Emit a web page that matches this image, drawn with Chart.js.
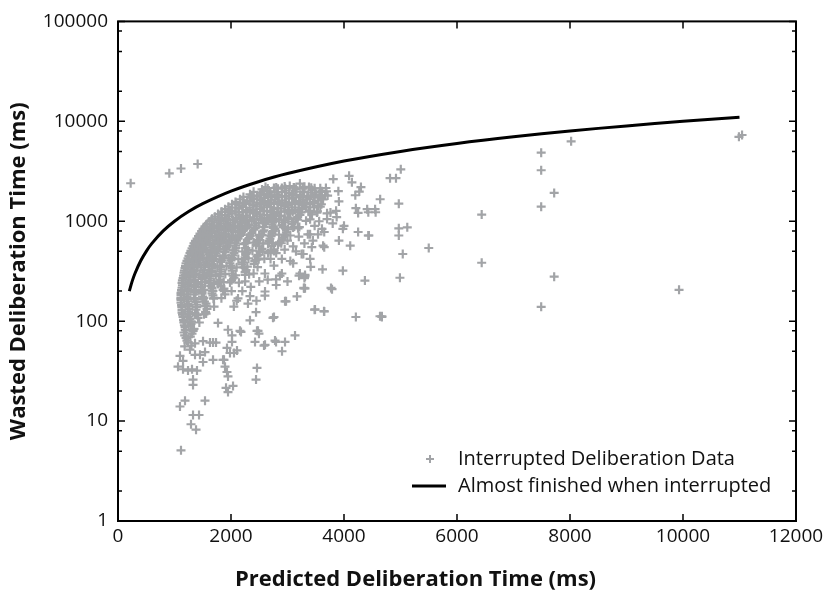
<!DOCTYPE html>
<html>
<head>
<meta charset="utf-8">
<script src="https://cdn.jsdelivr.net/npm/chart.js@4.4.1/dist/chart.umd.min.js"></script>
<style>
  html, body { margin: 0; padding: 0; background: #fff; }
  #wrap { width: 831px; height: 593px; }
</style>
</head>
<body>
<div id="wrap"><canvas id="chart" width="831" height="593"></canvas></div>
<script>
// Axis ticks
const xTicks = [0, 2000, 4000, 6000, 8000, 10000, 12000];
const yTicks = [1, 10, 100, 1000, 10000, 100000];
const yMinorTicks = [2, 5, 8, 20, 50, 80, 200, 500, 800, 2000, 5000, 8000, 20000, 50000, 80000];

// "Almost finished when interrupted" reference line (wasted = predicted)
const finishedX = [200, 250, 300, 400, 500, 600, 800, 1000, 1250, 1500, 2000, 2500, 3000, 4000, 5000, 6000, 7000, 8000, 9000, 10000, 11000];
const finishedY = [200, 250, 300, 400, 500, 600, 800, 1000, 1250, 1500, 2000, 2500, 3000, 4000, 5000, 6000, 7000, 8000, 9000, 10000, 11000];

// Interrupted deliberation data, [predicted ms, wasted ms]
const interruptedPoints = [
  // outliers top left
  [224, 2400], [908, 3020], [1115, 3370], [1410, 3740],
  // dense cloud
  [2900, 2150], [3040, 2250], [3220, 2380], [3380, 2200],
  [2610, 2200], [2760, 2150], [2950, 2230], [3120, 2170], [3300, 2210], [3480, 2140],
  [2549, 2080], [2690, 1990], [2832, 2120], [2974, 2030], [3151, 2100], [3293, 1980], [3434, 2060], [3611, 2000],
  [2400, 1970], [2520, 1930], [2640, 1990], [2770, 1940], [2900, 1960], [3030, 1920], [3160, 1980], [3290, 1950], [3430, 1930], [3570, 1970],
  [2336, 1860], [2460, 1800], [2584, 1880], [2708, 1820], [2832, 1850], [2956, 1790], [3080, 1870], [3221, 1830], [3363, 1800], [3505, 1860], [3664, 1820],
  [2220, 1750], [2345, 1720], [2470, 1760], [2595, 1710], [2720, 1740], [2845, 1730], [2970, 1765], [3095, 1715], [3220, 1745], [3350, 1725], [3480, 1755], [3600, 1720],
  [2159, 1660], [2283, 1610], [2407, 1670], [2531, 1630], [2655, 1600], [2779, 1650], [2903, 1620], [3027, 1680], [3151, 1600], [3275, 1640], [3398, 1660], [3540, 1610],
  [2080, 1560], [2205, 1530], [2330, 1575], [2455, 1540], [2580, 1555], [2705, 1525], [2830, 1570], [2955, 1545], [3080, 1535], [3205, 1565], [3330, 1530], [3470, 1555],
  [2018, 1480], [2142, 1440], [2266, 1500], [2390, 1450], [2513, 1470], [2637, 1430], [2761, 1490], [2885, 1460], [3009, 1440], [3133, 1480], [3257, 1450], [3398, 1470], [3540, 1430],
  [1955, 1400], [2080, 1370], [2205, 1395], [2330, 1365], [2455, 1410], [2575, 1375], [2700, 1390], [2825, 1360], [2950, 1405], [3075, 1380], [3200, 1370], [3330, 1395], [3470, 1375],
  [1894, 1320], [2018, 1280], [2142, 1340], [2266, 1300], [2390, 1290], [2513, 1330], [2637, 1270], [2761, 1310], [2885, 1340], [3009, 1290], [3133, 1300], [3257, 1320], [3398, 1280],
  [1830, 1245], [1955, 1220], [2080, 1250], [2205, 1225], [2330, 1240], [2455, 1215], [2575, 1255], [2700, 1230], [2825, 1220], [2950, 1250], [3090, 1235], [3240, 1225],
  [1770, 1180], [1894, 1150], [2018, 1190], [2142, 1160], [2266, 1140], [2390, 1200], [2513, 1170], [2637, 1150], [2761, 1180], [2885, 1140], [3044, 1190], [3221, 1160], [3434, 1170],
  [1715, 1110], [1840, 1090], [1965, 1115], [2090, 1085], [2210, 1105], [2335, 1095], [2460, 1120], [2590, 1080], [2720, 1100], [2860, 1115], [3000, 1090], [3180, 1105],
  [1664, 1060], [1788, 1020], [1912, 1050], [2036, 1030], [2159, 1070], [2283, 1010], [2407, 1040], [2531, 1060], [2655, 1020], [2797, 1050], [2956, 1030], [3151, 1060], [3328, 1010],
  [1620, 995], [1745, 975], [1870, 1000], [1990, 970], [2115, 990], [2240, 980], [2365, 1000], [2490, 965], [2620, 985], [2760, 995], [2930, 975], [3100, 990],
  [1575, 940], [1699, 910], [1823, 950], [1947, 920], [2071, 900], [2195, 945], [2319, 925], [2443, 910], [2567, 955], [2726, 930], [2903, 915], [3080, 940],
  [1540, 890], [1660, 870], [1785, 895], [1910, 865], [2035, 885], [2160, 875], [2285, 895], [2425, 860], [2575, 880], [2750, 890], [2950, 870], [3120, 885],
  [1505, 840], [1628, 815], [1752, 850], [1876, 820], [2000, 835], [2124, 805], [2248, 845], [2407, 825], [2584, 810], [2779, 840], [3009, 830], [3186, 850],
  [1480, 795], [1595, 775], [1710, 800], [1830, 770], [1955, 790], [2080, 780], [2210, 800], [2370, 765], [2560, 785], [2750, 795], [2980, 775],
  [1451, 750], [1558, 725], [1664, 760], [1788, 735], [1912, 745], [2036, 720], [2177, 755], [2336, 740], [2549, 730], [2726, 750], [2956, 725],
  [1425, 710], [1530, 690], [1640, 715], [1760, 685], [1885, 705], [2010, 695], [2150, 715], [2320, 680], [2510, 700], [2710, 710], [2930, 690],
  [1398, 670], [1505, 650], [1611, 680], [1735, 655], [1859, 665], [1982, 645], [2124, 675], [2301, 660], [2478, 650], [2690, 670], [2903, 655],
  [1370, 635], [1475, 615], [1585, 640], [1710, 610], [1830, 630], [1955, 620], [2100, 640], [2265, 605], [2460, 625], [2670, 635], [2860, 615],
  [1345, 600], [1451, 580], [1558, 605], [1682, 585], [1805, 595], [1929, 575], [2071, 600], [2230, 590], [2443, 580], [2655, 600], [2832, 585],
  [1330, 565], [1435, 550], [1540, 570], [1665, 545], [1790, 560], [1920, 550], [2080, 570], [2265, 540], [2500, 560], [2720, 565],
  [1310, 535], [1416, 520], [1522, 540], [1646, 515], [1770, 530], [1912, 525], [2089, 540], [2301, 515], [2549, 530], [2761, 520],
  [1290, 505], [1400, 490], [1505, 510], [1630, 485], [1755, 500], [1895, 490], [2070, 510], [2285, 485], [2510, 500], [2700, 505],
  [1274, 480], [1381, 460], [1487, 485], [1611, 465], [1735, 475], [1876, 455], [2053, 480], [2266, 470], [2478, 460], [2655, 480],
  [1255, 450], [1365, 438], [1470, 455], [1595, 435], [1720, 448], [1860, 440], [2035, 455], [2250, 435], [2460, 445],
  [1239, 425], [1345, 410], [1451, 430], [1575, 415], [1699, 420], [1841, 405], [2018, 428], [2230, 415], [2443, 410],
  [1220, 402], [1325, 390], [1435, 405], [1555, 388], [1680, 400], [1820, 392], [2000, 405], [2210, 388], [2420, 398],
  [1204, 380], [1310, 370], [1416, 385], [1540, 365], [1664, 375], [1805, 360], [1982, 380], [2195, 370], [2407, 375],
  [1195, 358], [1300, 348], [1405, 360], [1530, 345], [1665, 355], [1815, 350], [2000, 360], [2230, 346],
  [1186, 340], [1292, 330], [1398, 345], [1522, 325], [1664, 335], [1823, 330], [2018, 340], [2266, 325],
  [1175, 320], [1285, 312], [1390, 322], [1515, 308], [1655, 318], [1815, 313], [2020, 320], [2250, 310],
  [1168, 305], [1274, 295], [1381, 300], [1505, 290], [1646, 305], [1805, 295], [2018, 300], [2248, 290],
  [1160, 286], [1265, 278], [1370, 288], [1495, 276], [1640, 284], [1805, 280], [2035, 286],
  [1151, 270], [1257, 262], [1363, 275], [1487, 265], [1628, 268], [1805, 260], [2053, 272],
  [1140, 256], [1250, 248], [1355, 258], [1480, 246], [1620, 254], [1790, 250], [2010, 256],
  [1133, 242], [1239, 235], [1345, 245], [1469, 232], [1611, 240], [1770, 236], [1982, 244],
  [1140, 228], [1240, 222], [1355, 230], [1480, 220], [1640, 226], [1820, 224],
  [1133, 216], [1239, 210], [1363, 220], [1487, 208], [1664, 215], [1876, 212],
  [1125, 204], [1230, 198], [1355, 206], [1487, 196], [1665, 202], [1880, 200],
  [1115, 192], [1221, 186], [1345, 195], [1487, 188], [1664, 190], [1894, 185],
  [1115, 183], [1220, 177], [1345, 185], [1495, 176], [1680, 181],
  [1115, 172], [1221, 166], [1345, 170], [1505, 165], [1699, 171],
  [1115, 163], [1230, 158], [1360, 164], [1530, 157],
  [1115, 153], [1239, 148], [1381, 155], [1558, 150],
  [1125, 145], [1248, 140], [1390, 146], [1565, 141],
  [1133, 137], [1257, 132], [1398, 138], [1575, 133],
  [1133, 129], [1248, 125], [1380, 130], [1550, 124],
  [1133, 122], [1239, 118], [1363, 121], [1522, 117],
  [1142, 116], [1256, 112], [1390, 115],
  [1151, 110], [1274, 105], [1416, 108],
  [1160, 103], [1283, 99],
  [1168, 97], [1292, 94], [1175, 91], [1250, 89], [1186, 87], [1345, 84], [1200, 81], [1330, 80],
  [1168, 77], [1310, 75], [1180, 72], [1280, 70], [1204, 68], [1220, 64], [1239, 61], [1363, 60], [1300, 57], [1180, 56],
  // dense cloud, in-between points
  [2650, 2130], [2800, 2175], [2960, 2140], [3110, 2180], [3270, 2125], [3420, 2165], [3580, 2135],
  [2370, 1780], [2510, 1815], [2660, 1790], [2810, 1820], [2960, 1775], [3110, 1810], [3260, 1785], [3420, 1820], [3570, 1790], [3710, 1805],
  [2090, 1490], [2230, 1515], [2380, 1480], [2530, 1510], [2680, 1495], [2830, 1520], [2980, 1485], [3130, 1505], [3290, 1490], [3450, 1515], [3600, 1480],
  [1840, 1240], [1980, 1265], [2130, 1235], [2280, 1260], [2430, 1245], [2580, 1270], [2730, 1235], [2880, 1255], [3030, 1240], [3200, 1265], [3370, 1245], [3530, 1255],
  [1660, 1035], [1800, 1055], [1950, 1030], [2100, 1050], [2250, 1040], [2400, 1060], [2550, 1030], [2700, 1050], [2850, 1035], [3010, 1055], [3180, 1040], [3400, 1045],
  [1540, 860], [1680, 880], [1830, 865], [1980, 875], [2130, 860], [2280, 880], [2430, 865], [2590, 875], [2750, 860], [2920, 880], [3100, 865], [3210, 875],
  [1450, 720], [1590, 730], [1730, 715], [1880, 735], [2030, 720], [2180, 730], [2340, 715], [2500, 730], [2670, 720], [2850, 735], [3050, 720],
  [1360, 600], [1490, 610], [1630, 598], [1770, 612], [1920, 600], [2070, 608], [2230, 598], [2400, 612], [2570, 600], [2740, 608], [2890, 602],
  [1310, 500], [1440, 510], [1580, 498], [1720, 508], [1870, 500], [2030, 510], [2200, 498], [2380, 508], [2560, 500], [2760, 505],
  [1255, 418], [1380, 425], [1510, 415], [1650, 424], [1800, 416], [1960, 426], [2130, 418], [2310, 424], [2490, 416], [2590, 422],
  [1220, 348], [1340, 355], [1470, 346], [1610, 354], [1760, 348], [1920, 356], [2100, 346], [2290, 352], [2470, 348],
  [1190, 290], [1310, 296], [1440, 288], [1580, 295], [1730, 290], [1900, 296], [2080, 288], [2320, 294],
  [1150, 242], [1270, 248], [1400, 240], [1540, 247], [1700, 242], [1870, 246], [2140, 243],
  [1130, 202], [1250, 206], [1380, 200], [1520, 205], [1680, 201], [1860, 205], [2010, 200],
  [1115, 168], [1235, 171], [1370, 167], [1520, 171], [1690, 168], [1830, 170],
  [1130, 140], [1250, 143], [1390, 139], [1540, 142], [1700, 140],
  [1150, 117], [1270, 119], [1410, 116], [1560, 119],
  [1170, 98], [1300, 99], [1440, 97], [1190, 82], [1340, 83],
  // sparse below the cloud
  [1062, 35], [1151, 33], [1239, 32], [1398, 32], [1328, 26], [1328, 23], [1097, 14], [1186, 16], [1540, 16],
  [1328, 11.5], [1434, 11.5], [1292, 9.3], [1381, 8.2], [1115, 5.1], [1894, 35], [1929, 31], [1947, 28],
  [1912, 21.5], [2036, 22.5], [1947, 19.5], [2460, 34], [2443, 26], [1876, 41], [1982, 48], [2053, 48],
  [2425, 62], [2584, 57], [2797, 62], [2956, 62], [2903, 50], [3133, 72], [2743, 108], [2460, 80], [2495, 75],
  [2177, 78], [2018, 72], [2018, 62], [1929, 54], [2106, 51], [1682, 61], [1735, 61], [1505, 63], [1451, 46],
  [1540, 49], [1682, 41], [2956, 158], [3168, 177], [3310, 213], [3487, 131], [3646, 126], [3788, 209],
  [2602, 198], [2443, 123], [2336, 102], [1770, 96], [1947, 82], [2336, 178], [2124, 169], [2159, 80],
  [2478, 80], [2602, 58], [2779, 64], [1628, 61], [1274, 52], [1363, 46], [1505, 39], [1859, 41], [1097, 45],
  [1151, 40], [1310, 33], [2867, 285], [2797, 262], [3204, 285], [3310, 280], [3293, 213], [2974, 158],
  [2761, 110], [4637, 112],
  // sparse right of the cloud
  [3810, 2640], [4090, 2850], [4140, 2450], [4300, 2200], [4270, 1980], [4200, 1820], [3900, 2000], [3680, 2150],
  [3690, 1990], [3630, 1650], [3910, 1580], [3860, 1270], [3870, 1100], [3760, 1220], [3700, 1200], [4210, 1350],
  [4250, 1210], [4430, 1230], [4560, 1230], [4000, 900], [4250, 780], [4430, 720], [3910, 640], [4110, 570],
  [3630, 570], [3610, 840], [3400, 740], [3360, 740], [3540, 740], [3400, 420], [3250, 470], [3050, 400],
  [2900, 420], [3410, 350], [3620, 330], [3980, 320], [3220, 300], [3310, 290], [2900, 300], [2760, 360],
  [3300, 270], [3290, 215], [3770, 215], [3480, 130], [3650, 125], [4210, 110], [4670, 112], [3430, 550],
  [3650, 550], [3280, 470], [3980, 840], [3520, 1220], [3580, 1400], [3700, 1050], [3800, 950], [3560, 1000],
  [3480, 900], [3650, 780], [3450, 640], [3300, 600], [3200, 700], [3100, 560], [3000, 640], [3150, 500],
  [2950, 520], [2800, 480], [3100, 380], [2700, 420], [2600, 300], [2650, 260], [2500, 250], [2400, 300],
  [2350, 220], [2250, 250], [2200, 200], [2100, 160], [2050, 140], [2300, 150], [2600, 180], [2800, 230],
  [3000, 250], [2450, 160],
  [4815, 2700], [4920, 2700], [5005, 3310], [4640, 1660], [4970, 1500], [4410, 1320], [4550, 1320], [4970, 850],
  [5120, 870], [4970, 720], [4440, 720], [5500, 540], [5040, 470], [4370, 255], [4990, 272], [4670, 110],
  // far right
  [6437, 1167], [6437, 384], [7490, 4850], [7490, 3240], [8020, 6300], [7720, 1920], [7490, 1400],
  [7720, 279], [7490, 139], [9930, 206], [10990, 7000], [11045, 7300]
];

const pointGrey = '#a2a4a7';
const fontFamily = '"Open Sans", "Liberation Sans", Arial, sans-serif';
const legendLabels = ['Interrupted Deliberation Data', 'Almost finished when interrupted'];
const xTitle = 'Predicted Deliberation Time (ms)';

// Frame, inward ticks, x title and legend
const frameTicks = {
  id: 'frameTicks',
  afterDraw(chart) {
    const { ctx, chartArea: a, scales: { x, y } } = chart;
    ctx.save();
    ctx.strokeStyle = '#000';
    ctx.lineWidth = 1.5;
    ctx.beginPath();
    xTicks.forEach((v) => {
      const px = x.getPixelForValue(v);
      ctx.moveTo(px, a.bottom); ctx.lineTo(px, a.bottom - 7);
      ctx.moveTo(px, a.top); ctx.lineTo(px, a.top + 7);
    });
    yTicks.forEach((v) => {
      const py = y.getPixelForValue(v);
      ctx.moveTo(a.left, py); ctx.lineTo(a.left + 7, py);
      ctx.moveTo(a.right, py); ctx.lineTo(a.right - 7, py);
    });
    yMinorTicks.forEach((v) => {
      const py = y.getPixelForValue(v);
      ctx.moveTo(a.left, py); ctx.lineTo(a.left + 4, py);
      ctx.moveTo(a.right, py); ctx.lineTo(a.right - 4, py);
    });
    ctx.stroke();
    ctx.lineWidth = 2;
    ctx.strokeRect(a.left, a.top, a.right - a.left, a.bottom - a.top);

    // x title, centred on the page like the original
    ctx.fillStyle = '#111';
    ctx.font = 'bold 22px ' + fontFamily;
    ctx.textAlign = 'center';
    ctx.textBaseline = 'middle';
    ctx.fillText(xTitle, chart.width / 2, 580);

    // legend
    ctx.strokeStyle = pointGrey;
    ctx.lineWidth = 2;
    ctx.beginPath();
    ctx.moveTo(426, 459); ctx.lineTo(434, 459);
    ctx.moveTo(430, 455); ctx.lineTo(430, 463);
    ctx.stroke();
    ctx.strokeStyle = '#000';
    ctx.lineWidth = 3;
    ctx.beginPath();
    ctx.moveTo(412, 486); ctx.lineTo(446, 486);
    ctx.stroke();
    ctx.font = '20px ' + fontFamily;
    ctx.textAlign = 'left';
    ctx.fillText(legendLabels[0], 458, 459);
    ctx.fillText(legendLabels[1], 458, 486);
    ctx.restore();
  }
};

document.addEventListener('DOMContentLoaded', () => {
  const ctx = document.getElementById('chart').getContext('2d');
  new Chart(ctx, {
    data: {
      datasets: [
        {
          type: 'line',
          label: legendLabels[1],
          data: finishedX.map((v, i) => ({ x: v, y: finishedY[i] })),
          borderColor: '#000',
          borderWidth: 3,
          pointRadius: 0,
          fill: false,
          tension: 0.3
        },
        {
          type: 'scatter',
          label: legendLabels[0],
          data: interruptedPoints.map((p) => ({ x: p[0], y: p[1] })),
          pointStyle: 'cross',
          pointRadius: 4.5,
          borderColor: pointGrey,
          backgroundColor: pointGrey,
          borderWidth: 2.2
        }
      ]
    },
    options: {
      responsive: false,
      animation: false,
      devicePixelRatio: 1,
      layout: { padding: { top: 14, right: 35, left: 0, bottom: 0 } },
      plugins: {
        legend: { display: false },
        tooltip: { enabled: false }
      },
      scales: {
        x: {
          type: 'linear',
          min: 0,
          max: 12000,
          grid: { display: false, drawTicks: false },
          border: { display: false },
          afterBuildTicks: (scale) => { scale.ticks = xTicks.map((v) => ({ value: v })); },
          afterFit: (scale) => { scale.height = 72; },
          ticks: {
            padding: 4,
            color: '#111',
            font: { family: fontFamily, size: 19 },
            callback: (v) => String(v)
          },
          title: { display: false }
        },
        y: {
          type: 'logarithmic',
          min: 1,
          max: 100000,
          grid: { display: false, drawTicks: false },
          border: { display: false },
          afterBuildTicks: (scale) => { scale.ticks = yTicks.map((v) => ({ value: v })); },
          afterFit: (scale) => { scale.width = 118; },
          ticks: {
            padding: 10,
            color: '#111',
            font: { family: fontFamily, size: 19 },
            callback: (v) => String(v)
          },
          title: {
            display: true,
            text: 'Wasted Deliberation Time (ms)',
            color: '#111',
            font: { family: fontFamily, size: 22, weight: 'bold' },
            padding: { top: 6, bottom: 0 }
          }
        }
      }
    },
    plugins: [frameTicks]
  });
});
</script>
</body>
</html>
